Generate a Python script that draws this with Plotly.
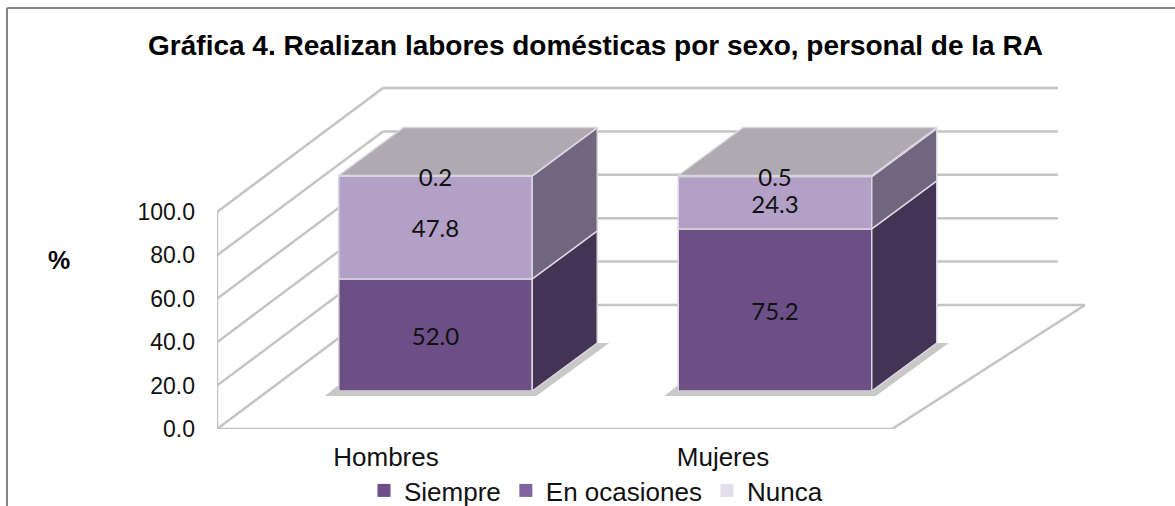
import plotly.graph_objects as go

# --- data ---
categories = ["Hombres", "Mujeres"]
series_names = ["Siempre", "En ocasiones", "Nunca"]
siempre = [52.0, 75.2]
en_ocasiones = [47.8, 24.3]
nunca = [0.2, 0.5]
series_values = [siempre, en_ocasiones, nunca]
tick_values = [0, 20, 40, 60, 80, 100]

# --- style ---
front_colors = ["#6b4f86", "#b3a0c6", "#ded8e8"]
side_colors = ["#433355", "#71667f", "#8f8a96"]
legend_colors = ["#6b4f86", "#8064a2", "#e3dfec"]
top_color = "#aeaab1"
edge = "#d9d5de"
grid = "#c4c4c4"
FONT = "Liberation Sans"

# --- pseudo-3D geometry in axis units ---
W, H = 1175, 506
PXX = 337.0    # px per category
PXY = 2.17     # px per value unit
X0 = 386       # px of first category
Y0 = 429       # px of value 0
x_lo, x_hi = (217 - X0) / PXX, (1085 - X0) / PXX
y_hi = (Y0 - 80) / PXY

wall_dx, wall_dy = 166 / PXX, 124 / PXY
grid_end = (1058 - X0) / PXX
floor_end = (892 - X0) / PXX
bar_shift_x = 49.5 / PXX
bar_step = 339.5 / PXX
bar_base = 38 / PXY
bar_scale = 2.155 / PXY
bar_w = 193.5 / PXX
depth_x, depth_y = 65 / PXX, 48 / PXY
label_drop = 4 / PXY

fig = go.Figure()
shapes = []


def line(x0, y0, x1, y1):
    shapes.append(dict(type="line", x0=x0, y0=y0, x1=x1, y1=y1, xref="x", yref="y",
                       layer="below", line=dict(color=grid, width=2.5)))


# walls and floor
line(x_lo, 0, x_lo, 100)
line(x_lo, 0, floor_end, 0)
line(floor_end, 0, x_hi, wall_dy)
for t in tick_values:
    line(x_lo, t, x_lo + wall_dx, t + wall_dy)
    line(x_lo + wall_dx, t + wall_dy, x_hi if t == 0 else grid_end, t + wall_dy)


def poly(xs, ys, color, line_color=None, width=0, opacity=1.0):
    fig.add_trace(go.Scatter(x=xs + xs[:1], y=ys + ys[:1], mode="lines", fill="toself",
                             fillcolor=color, opacity=opacity, hoverinfo="skip", showlegend=False,
                             line=dict(color=line_color or color, width=width)))


centers = [i * bar_step + bar_shift_x for i in range(len(categories))]

# floor shadows
for c in centers:
    l, r = c - bar_w / 2, c + bar_w / 2
    p = 1 / PXX
    q = 1 / PXY
    poly([l - 14 * p, l, l, r, r + depth_x, r + depth_x + 12 * p, r + 4 * p],
         [bar_base - 5 * q, bar_base + 6 * q, bar_base, bar_base, bar_base + depth_y,
          bar_base + depth_y, bar_base - 5 * q],
         "#c8c8c8")

# stacked fronts, sides and tops
cum = [0.0] * len(categories)
for k, vals in enumerate(series_values):
    bases = [bar_base + bar_scale * b for b in cum]
    fig.add_trace(go.Bar(x=centers, y=[bar_scale * v for v in vals], base=bases, width=bar_w,
                         marker=dict(color=front_colors[k], line=dict(color=edge, width=1.5)),
                         name=series_names[k], showlegend=False,
                         customdata=vals, hovertemplate="%{customdata:.1f}<extra></extra>"))
    for c, b, v in zip(centers, bases, vals):
        r = c + bar_w / 2
        h = bar_scale * v
        poly([r, r + depth_x, r + depth_x, r], [b, b + depth_y, b + h + depth_y, b + h],
             side_colors[k], edge, 1.5)
    cum = [a + v for a, v in zip(cum, vals)]

tops = [bar_base + bar_scale * b for b in cum]
for c, t in zip(centers, tops):
    l, r = c - bar_w / 2, c + bar_w / 2
    poly([l, r, r + depth_x, l + depth_x], [t, t, t + depth_y, t + depth_y], top_color, edge, 1.5)

# data labels
cum = [0.0] * len(categories)
for vals in series_values:
    fig.add_trace(go.Scatter(x=centers,
                             y=[bar_base + bar_scale * (b + v / 2) - label_drop for b, v in zip(cum, vals)],
                             mode="text", text=[f"{v:.1f}" for v in vals], showlegend=False, hoverinfo="skip",
                             textposition="middle center",
                             textfont=dict(family="Lato", size=24, color="#111111")))
    cum = [a + v for a, v in zip(cum, vals)]

# legend keys
for name, col in zip(series_names, legend_colors):
    fig.add_trace(go.Scatter(x=[None], y=[None], mode="markers", name=name,
                             marker=dict(symbol="square", size=13, color=col)))

# frame
for x0, y0, x1, y1 in [(7, 8, 1175, 8), (7, 8, 7, 506)]:
    shapes.append(dict(type="line", xref="paper", yref="paper", layer="below",
                       x0=(x0 - 217) / (1085 - 217), x1=(x1 - 217) / (1085 - 217),
                       y0=(429 - y0) / (429 - 80), y1=(429 - y1) / (429 - 80),
                       line=dict(color="#868686", width=2)))

fig.update_layout(
    width=W, height=H, autosize=False, paper_bgcolor="white", plot_bgcolor="white",
    margin=dict(l=217, r=W - 1085, t=80, b=H - 429, pad=0),
    barmode="overlay", shapes=shapes,
    font=dict(family=FONT, size=23, color="#111111"),
    xaxis=dict(range=[x_lo, x_hi], tickvals=list(range(len(categories))), ticktext=categories,
               showgrid=False, zeroline=False, showline=False, ticks="", tickfont=dict(size=26),
               ticklabelstandoff=10, automargin=False),
    yaxis=dict(range=[0, y_hi], tickvals=tick_values, tickformat=".1f", showgrid=False,
               zeroline=False, showline=False, ticks="", tickfont=dict(size=23),
               ticklabelstandoff=21, automargin=False),
    legend=dict(orientation="h", xref="container", yref="container",
                x=364 / W, xanchor="left", y=1 - 467 / H, yanchor="top",
                font=dict(size=26), itemwidth=30, bgcolor="rgba(0,0,0,0)"),
    title=dict(text="<b>Gráfica 4. Realizan labores domésticas por sexo, personal de la RA</b>",
               x=595.5 / W, xanchor="center", y=1 - 45 / H, yanchor="middle",
               font=dict(family=FONT, size=28, color="#000000")),
    annotations=[dict(text="<b>%</b>", xref="paper", yref="paper", showarrow=False,
                      x=(59 - 217) / (1085 - 217), y=(429 - 260) / (429 - 80),
                      xanchor="center", yanchor="middle",
                      font=dict(family=FONT, size=25, color="#000000"))],
)

fig.write_html("out.html", post_script="document.body.style.margin='0';",
               config=dict(displayModeBar=False))
